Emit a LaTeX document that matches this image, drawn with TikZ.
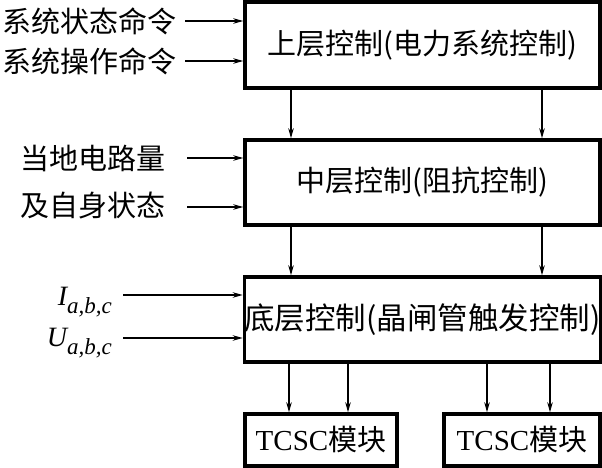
\documentclass[tikz,border=0pt]{standalone}
\usepackage{fontspec}
\setmainfont{Liberation Serif}
\newfontfamily\cjk{Noto Sans CJK SC}
\usetikzlibrary{arrows.meta}
\begin{document}
\begin{tikzpicture}[x=1pt,y=-1pt,
  blk/.style={draw, line width=3.5pt, inner sep=0pt, font=\cjk\fontsize{29}{32}\selectfont},
  lbl/.style={inner sep=0pt, font=\cjk\fontsize{29}{32}\selectfont},
  arr/.style={line width=1.3pt, -{Stealth[length=10pt,width=5.5pt]}}]
\useasboundingbox (0,0) rectangle (602,468);
% main boxes
\node[blk, minimum width=355pt, minimum height=86pt] (top) at (422.5,45) {上层控制(电力系统控制)};
\node[blk, minimum width=355pt, minimum height=85pt] (mid) at (422.5,182.5) {中层控制(阻抗控制)};
\node[blk, minimum width=355pt, minimum height=85pt, font=\cjk\fontsize{30.5}{32}\selectfont] (bot) at (422.5,319.5) {底层控制(晶闸管触发控制)};
\node[blk, minimum width=152pt, minimum height=52pt] (ta) at (321,440) {{\rmfamily TCSC}模块};
\node[blk, minimum width=156pt, minimum height=52pt] (tb) at (522,440) {{\rmfamily TCSC}模块};
% input labels
\node[lbl, anchor=west] (s1) at (2,21) {系统状态命令};
\node[lbl, anchor=west] (s2) at (2,61) {系统操作命令};
\node[lbl, anchor=west] (m1) at (20,158) {当地电路量};
\node[lbl, anchor=west] (m2) at (20,206) {及自身状态};
\node[inner sep=0pt, anchor=base east, font=\fontsize{28}{30}\selectfont] (iI) at (112,305) {\itshape I\raisebox{-8pt}{\fontsize{23}{25}\selectfont a,b,c}};
\node[inner sep=0pt, anchor=base east, font=\fontsize{28}{30}\selectfont] (iU) at (112,346) {\itshape U\raisebox{-8pt}{\fontsize{23}{25}\selectfont a,b,c}};
\coordinate (s1a) at (185,21);
\coordinate (s2a) at (185,61);
\coordinate (m1a) at (187,158);
\coordinate (m2a) at (187,207);
\coordinate (iIa) at (123,295);
\coordinate (iUa) at (123,338);
\draw[arr] (s1a) -- (s1a -| top.west);
\draw[arr] (s2a) -- (s2a -| top.west);
\draw[arr] (m1a) -- (m1a -| mid.west);
\draw[arr] (m2a) -- (m2a -| mid.west);
\draw[arr] (iIa) -- (iIa -| bot.west);
\draw[arr] (iUa) -- (iUa -| bot.west);
% vertical arrows
\draw[arr] ([xshift=-131.5pt]top.south) -- ([xshift=-131.5pt]mid.north);
\draw[arr] ([xshift=119.5pt]top.south) -- ([xshift=119.5pt]mid.north);
\draw[arr] ([xshift=-131.5pt]mid.south) -- ([xshift=-131.5pt]bot.north);
\draw[arr] ([xshift=119.5pt]mid.south) -- ([xshift=119.5pt]bot.north);
\draw[arr] ([xshift=-32pt]ta.north |- bot.south) -- ([xshift=-32pt]ta.north);
\draw[arr] ([xshift=27pt]ta.north |- bot.south) -- ([xshift=27pt]ta.north);
\draw[arr] ([xshift=-35pt]tb.north |- bot.south) -- ([xshift=-35pt]tb.north);
\draw[arr] ([xshift=28pt]tb.north |- bot.south) -- ([xshift=28pt]tb.north);
\end{tikzpicture}
\end{document}
